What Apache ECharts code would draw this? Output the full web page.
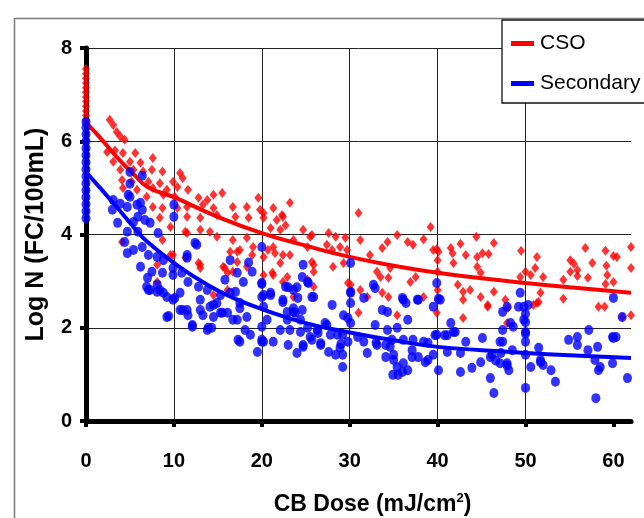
<!DOCTYPE html>
<html>
<head>
<meta charset="utf-8">
<script src="https://cdn.jsdelivr.net/npm/echarts@6/dist/echarts.min.js"></script>
<style>
  html, body { margin: 0; padding: 0; background: #fff; }
  #chart { width: 644px; height: 518px; }
</style>
</head>
<body>
<div id="chart"></div>
<script>
// ---- data ----
const seriesNames = ['CSO', 'Secondary'];
const xTicks = [0, 10, 20, 30, 40, 50, 60];
const yTicks = [0, 2, 4, 6, 8];

// CSO scatter points [CB dose, log N]
const csoPoints = [
  [0,6.45],[0,6.55],[0,6.65],[0,6.75],[0,6.85],[0,6.95],[0,7.05],[0,7.15],[0,7.25],[0,7.35],[0,7.45],[0,7.55],
  [2.7,6.46],[3.1,6.35],[3.5,6.2],[3.9,6.1],[4.4,6.03],[2.4,5.77],[3.3,5.8],[4.2,5.75],[5.6,5.75],[3.1,5.56],
  [5.0,5.56],[6.2,5.54],[7.6,5.64],[3.9,5.39],[5.4,5.39],[6.5,5.35],[7.5,5.39],[8.7,5.35],[10.7,5.32],[4.1,5.17],
  [5.2,5.13],[7.1,5.13],[8.4,5.1],[9.9,5.13],[11.0,5.21],[4.2,5.0],[5.8,4.96],[7.6,5.0],[9.2,4.96],[10.4,5.02],
  [11.6,4.96],[6.9,4.81],[8.8,4.85],[10.1,4.81],[12.8,4.79],[13.8,4.74],[14.5,4.85],[15.5,4.89],[19.6,4.79],
  [23.2,4.68],[7.6,4.59],[8.7,4.57],[10.4,4.57],[11.5,4.59],[13.3,4.64],[14.5,4.57],[16.7,4.59],[18.3,4.59],
  [19.8,4.53],[21.3,4.57],[22.3,4.42],[8.4,4.36],[9.6,4.16],[11.5,4.38],[13.0,4.36],[14.9,4.42],[17.0,4.38],
  [18.5,4.36],[20.2,4.36],[21.7,4.31],[22.4,4.38],[24.7,4.10],[25.7,3.99],[27.6,4.03],[11.3,4.06],[13.0,4.10],
  [14.9,3.95],[16.7,3.88],[17.5,3.67],[19.0,3.73],[20.7,3.67],[21.5,3.6],[23.2,3.56],[22.4,3.56],[4.1,3.84],
  [9.9,3.56],[13.0,3.35],[15.6,3.31],[17.2,3.41],[16.1,3.18],[18.3,3.31],[20.2,3.13],[21.2,3.18],[22.9,3.09],
  [25.7,3.41],[25.9,3.20],[25.2,3.03],[25.9,2.88],[23.6,2.66],[22.4,2.98],[8.1,2.98],[16.1,2.81],[14.5,2.70],
  [31.0,4.46],[20.2,4.46],[22.7,4.2],[21.0,4.14],[22.1,4.10],[25.5,3.95],[28.4,3.95],[29.5,3.93],[31.2,3.88],
  [35.4,3.99],[34.3,3.84],[36.6,3.84],[37.2,3.78],[38.4,3.9],[39.2,4.16],[39.5,3.67],[40.1,3.63],[33.7,3.71],
  [27.4,3.78],[28.0,3.67],[28.9,3.73],[29.7,3.67],[25.2,3.73],[23.6,3.88],[21.3,3.73],[20.2,3.52],[22.1,3.39],
  [25.9,3.35],[28.1,3.31],[29.3,3.39],[32.3,3.56],[34.6,3.28],[33.1,3.2],[21.3,3.13],[33.5,3.09],[34.4,3.07],
  [37.5,3.09],[36.9,2.98],[29.8,2.96],[40.0,3.45],[40.0,3.2],
  [39.9,3.69],[41.5,3.71],[41.7,3.6],[42.6,3.8],[41.8,3.39],[43.2,3.56],[44.4,3.95],[44.5,3.52],[45.1,3.6],
  [45.8,3.58],[46.4,3.82],[44.5,3.31],[44.9,3.18],[46.4,2.77],[42.3,2.92],[42.9,2.77],[43.7,2.81],[42.9,2.6],
  [44.9,2.66],[45.7,2.45],[49.5,3.65],[51.3,3.52],[51.1,3.28],[50.0,3.2],[50.6,3.13],[49.4,3.09],[52.0,3.09],
  [51.7,2.75],[51.5,2.55],[54.3,3.03],[54.3,2.62],[55.1,3.45],[55.5,3.37],[55.1,3.2],[55.9,3.24],[55.9,3.11],
  [56.8,3.71],[57.6,3.39],[57.1,3.07],[59.1,3.65],[59.2,3.33],[59.3,3.13],[59.1,2.94],[60.0,2.98],[60.0,3.54],
  [60.4,3.52],[62.0,3.73],[62.0,3.28],[58.3,2.45],[59.0,2.45],[62.0,2.27],[47.7,2.6],[48.0,2.43],[50.9,2.49],
  [51.3,2.53],[42.9,2.21],[45.7,2.49],[47.9,2.1],[35.4,2.27],[39.9,2.32],[40.0,2.81],[40.0,2.6],[33.7,2.75],
  [34.4,2.66],[38.4,2.66],[31.2,2.81],[32.0,2.66],[31.0,2.32],[30.1,2.92],[61.0,2.23],
  [11.5,4.03],[14.1,4.06],[18.3,3.93],[16.4,3.63],[17.2,3.63],[18.9,3.56],[12.8,3.39],[13.0,3.28],[15.8,3.28],
  [16.7,3.2],[9.6,3.56],[8.1,3.35],[11.3,3.5],[8.7,3.88]
];

// Secondary scatter points [CB dose, log N]
const secondaryPoints = [
  [0,4.35],[0,4.5],[0,4.65],[0,4.8],[0,4.95],[0,5.1],[0,5.25],[0,5.4],[0,5.55],[0,5.7],[0,5.85],[0,6.0],[0,6.15],[0,6.3],[0,6.42],
  [5.0,5.34],[6.4,5.26],[5.0,5.09],[5.0,4.81],[3.1,4.74],[3.9,4.66],[3.0,4.53],[4.7,4.59],[6.2,4.68],[6.4,4.53],
  [5.9,4.38],[5.4,4.27],[6.7,4.31],[7.3,4.25],[3.6,4.25],[4.7,4.06],[5.9,4.06],[8.2,4.03],[10.0,4.64],[10.0,4.38],
  [4.8,4.85],[5.8,4.64],[4.4,3.84],[4.7,3.6],[5.4,3.67],[6.4,3.73],[7.1,3.56],[8.1,3.52],[8.8,3.45],[6.2,3.31],
  [7.5,3.2],[8.7,3.18],[9.9,3.28],[9.9,3.13],[6.9,2.88],[8.1,2.77],[9.2,2.66],[9.9,2.6],[10.9,3.18],[11.5,3.56],
  [12.6,3.78],[11.6,2.98],[12.8,2.88],[13.8,2.81],[13.0,2.6],[11.5,2.38],[16.4,3.45],[17.2,3.18],[17.9,2.98],
  [18.9,3.2],[20.0,3.73],[20.0,2.96],[20.2,2.7],[21.0,2.75],[16.4,2.75],[17.5,2.53],[14.9,2.53],[15.3,2.32],
  [22.4,2.6],[23.6,2.42],[24.7,3.35],[24.6,3.09],[25.7,2.66],
  [7.0,3.07],[7.3,2.81],[8.4,2.81],[9.2,2.23],[10.1,2.64],[10.7,2.38],[11.6,2.27],[12.1,2.02],[12.4,3.82],
  [11.5,3.5],[13.3,2.27],[13.9,2.0],[14.5,2.23],[16.1,2.32],[15.8,3.03],[17.0,2.77],[18.5,3.4],[17.5,2.42],
  [17.2,2.17],[18.1,1.95],[17.3,1.74],[18.7,1.85],[19.5,1.48],[20.0,2.66],[20.0,1.74],[20.0,2.02],[14.1,2.45],
  [15.3,2.7],[9.4,2.25],[12.1,2.06],[13.8,1.95],[14.3,2.0],[17.5,1.7],[20.2,1.7],[21.3,1.7],[22.1,1.95],
  [23.0,1.63],[24.0,1.46],[24.7,1.59],[25.5,1.8],[26.7,1.67],[27.6,1.48],[22.9,2.17],[23.6,2.34],[24.4,2.17],
  [25.2,2.0],[26.3,1.95],[27.2,2.1],[16.7,2.17],[18.3,2.23],[15.5,2.32],[14.5,2.49],[13.0,2.38],[11.0,2.38],
  [10.7,2.75],[8.8,2.75],[7.1,2.81],[8.1,2.92],
  [21.0,2.7],[20.2,2.45],[20.6,2.17],[20.0,1.7],[22.7,2.88],[23.6,2.81],[24.1,2.64],[25.3,2.96],[22.4,2.55],
  [22.9,2.34],[23.8,2.32],[24.6,2.38],[23.2,1.95],[24.4,1.91],[24.7,1.63],[25.7,1.74],[26.4,1.89],[26.7,1.63],
  [27.4,2.06],[28.0,2.49],[27.8,1.85],[28.4,1.42],[28.9,1.57],[29.2,1.85],[29.2,1.16],[29.3,2.27],[29.8,2.21],
  [30.1,2.53],[30.1,2.77],[30.1,2.1],[29.8,1.70],[30.9,1.8],[31.6,1.7],[32.0,1.46],[32.9,2.85],[31.6,2.64],
  [32.9,2.06],[33.7,2.38],[34.3,2.34],[34.3,1.95],[33.1,1.63],[34.1,1.37],[34.6,1.59],[35.0,1.31],[35.4,1.16],
  [34.9,0.99],[36.0,1.05],[35.4,2.0],[36.0,2.64],[36.4,2.53],[36.6,2.17],[36.1,1.74],[37.1,1.52],[37.1,1.37],
  [37.8,2.6],[38.4,1.7],[38.9,1.31],[39.5,1.42],[39.9,2.96],[39.9,1.85],[40.1,1.09],
  [30.1,3.39],[25.2,2.98],[20.0,2.94],[23.0,2.87],[24.0,2.87],[32.7,2.92],[40.1,2.62],[25.9,2.66],[30.1,2.75],
  [36.1,2.6],[37.7,2.6],[39.5,2.45],
  [28.6,1.85],[29.0,1.65],[29.2,1.42],[33.0,1.68],[34.1,1.63],[34.8,1.74],[35.0,1.42],[35.5,0.99],[36.1,1.24],
  [36.6,1.09],[37.2,1.74],[37.8,1.37],[38.9,1.68],[38.6,1.26],[39.7,1.84],[41.1,1.84],[41.8,1.91],[42.6,1.05],
  [43.9,1.14],[44.9,1.26],[45.1,1.78],[46.0,0.92],[46.4,0.6],[46.2,1.42],[47.1,1.24],[47.1,1.7],[47.4,1.95],
  [47.9,1.19],[48.3,2.1],[48.6,2.02],[49.4,2.75],[49.8,2.17],[50.0,0.71],[50.0,1.87],[50.6,1.16],[51.7,1.26],
  [52.9,1.09],[53.4,0.84],[54.9,1.74],[55.9,1.63],[57.2,1.95],[57.1,1.52],[57.9,1.31],[58.3,1.09],[58.0,0.49],
  [59.9,1.24],[59.9,1.80],[60.0,2.64],[61.0,2.23],[61.6,0.92],
  [40.3,2.6],[41.5,2.1],[42.0,1.91],[40.8,1.84],[41.1,1.48],[43.2,1.7],[42.6,1.46],[46.0,1.37],[46.6,1.3],
  [47.4,2.34],[47.4,1.70],[47.2,1.46],[47.9,2.45],[47.9,1.24],[48.1,1.09],[48.5,1.52],[49.2,2.45],[49.8,2.45],
  [50.3,2.49],[50.0,2.3],[50.0,2.12],[50.0,1.91],[50.0,1.70],[50.0,1.42],[51.5,1.57],[51.7,1.31],[52.0,1.2],
  [55.9,1.80],[58.2,1.59],[58.5,1.16],[60.0,1.78],[60.3,1.8]
];

// fitted curves
const csoFit = [
  [0,6.4],[1.5,6.1],[3.5,5.66],[5.5,5.28],[7,5.02],[10,4.8],[15,4.38],[20,4.03],[25,3.76],[30,3.52],
  [35,3.33],[40,3.18],[45,3.06],[50,2.96],[55,2.87],[62,2.75]
];
const secondaryFit = [
  [0,5.34],[1.5,5.02],[3.5,4.59],[5.5,4.14],[7,3.84],[10,3.39],[14,2.9],[17,2.62],[20,2.4],[25,2.1],
  [30,1.9],[35,1.73],[40,1.59],[45,1.52],[50,1.46],[55,1.41],[62,1.35]
];

const RED = '#ff0000', BLUE = '#0000ff';
const FONT = '"Liberation Sans Narrow", "Liberation Sans", Arial, sans-serif';
const FONT2 = '"Liberation Sans", Arial, sans-serif';

const chart = echarts.init(document.getElementById('chart'), null, { renderer: 'canvas' });
chart.setOption({
  animation: false,
  backgroundColor: '#ffffff',
  graphic: [{
    type: 'rect', left: 12, top: 16, z: -10, silent: true,
    shape: { width: 700, height: 600 },
    style: { fill: 'none', stroke: '#7a7a7a', lineWidth: 1.5 }
  }],
  grid: { left: 86, top: 48, right: 13, bottom: 97, containLabel: false, outerBoundsMode: 'none' },
  legend: {
    data: seriesNames,
    orient: 'vertical',
    left: 502, top: 20,
    padding: [13, 40, 9, 9],
    itemGap: 19,
    itemWidth: 23, itemHeight: 5,
    icon: 'rect',
    selectedMode: false,
    backgroundColor: '#ffffff',
    borderColor: '#111', borderWidth: 1.3,
    textStyle: { fontFamily: FONT2, fontSize: 21, color: '#000', padding: [0, 0, 0, 1] }
  },
  xAxis: {
    type: 'value', min: 0, max: 62, interval: 10,
    name: 'CB Dose (mJ/cm{sup|2})',
    nameLocation: 'middle', nameGap: 71,
    nameTextStyle: {
      fontFamily: FONT2, fontWeight: 'bold', fontSize: 23, color: '#000', padding: [0, 0, 0, 28],
      rich: { sup: { fontFamily: FONT2, fontWeight: 'bold', fontSize: 13, color: '#000', verticalAlign: 'top', padding: [0, 0, 12, 0] } }
    },
    axisLine: { show: true, onZero: false, lineStyle: { color: '#000', width: 5 } },
    axisTick: { show: true, inside: false, length: 6, customValues: xTicks, lineStyle: { color: '#000', width: 4 } },
    axisLabel: { customValues: xTicks, margin: 30, fontFamily: FONT, fontWeight: 'bold', fontSize: 20, color: '#000' },
    splitLine: { show: true, showMaxLine: false, lineStyle: { color: '#222', width: 1 } }
  },
  yAxis: {
    type: 'value', min: 0, max: 8, interval: 2,
    name: 'Log N (FC/100mL)',
    nameLocation: 'middle', nameGap: 37, nameRotate: 90,
    nameTextStyle: { fontFamily: FONT2, fontWeight: 'bold', fontSize: 25, color: '#000' },
    axisLine: { show: true, onZero: false, lineStyle: { color: '#000', width: 5 } },
    axisTick: { show: true, inside: false, length: 6, customValues: yTicks, lineStyle: { color: '#000', width: 4 } },
    axisLabel: { customValues: yTicks, margin: 14, fontFamily: FONT, fontWeight: 'bold', fontSize: 20, color: '#000' },
    splitLine: { show: true, lineStyle: { color: '#222', width: 1 } }
  },
  series: [
    {
      name: 'CSO points', type: 'scatter', data: csoPoints,
      symbol: 'diamond', symbolSize: [8, 10],
      itemStyle: { color: RED }, z: 2
    },
    {
      name: 'CSO', type: 'line', data: csoFit, smooth: true, showSymbol: false, symbol: 'none',
      lineStyle: { color: RED, width: 4 }, itemStyle: { color: RED }, z: 3
    },
    {
      name: 'Secondary points', type: 'scatter', data: secondaryPoints,
      symbol: 'circle', symbolSize: [9, 10],
      itemStyle: { color: BLUE }, z: 4
    },
    {
      name: 'Secondary', type: 'line', data: secondaryFit, smooth: true, showSymbol: false, symbol: 'none',
      lineStyle: { color: BLUE, width: 4 }, itemStyle: { color: BLUE }, z: 5
    }
  ]
});
</script>
</body>
</html>
